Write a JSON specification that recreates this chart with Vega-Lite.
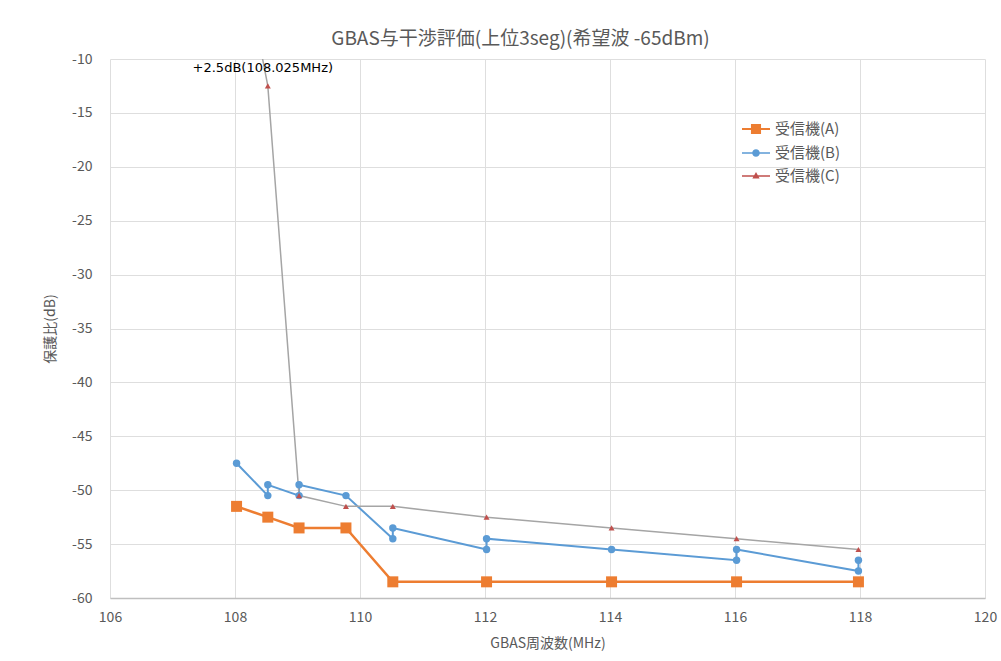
{
  "$schema": "https://vega.github.io/schema/vega-lite/v6.json",
  "autosize": {"type": "none"},
  "width": 875,
  "height": 539,
  "padding": {"left": 110, "top": 59, "right": 16, "bottom": 63},
  "background": "white",
  "title": {
    "text": "GBAS与干渉評価(上位3seg)(希望波 -65dBm)",
    "anchor": "middle",
    "dx": -27,
    "offset": 3,
    "fontSize": 19,
    "font": "Noto Sans CJK JP",
    "fontWeight": "normal",
    "color": "#595959"
  },
  "config": {
    "view": {"stroke": null},
    "font": "Noto Sans CJK JP",
    "axis": {
      "labelFont": "Noto Sans CJK JP",
      "labelFontSize": 14,
      "labelColor": "#595959",
      "labelExpr": "replace(datum.label, '−', '-')",
      "labelFlush": false,
      "titleFont": "Noto Sans CJK JP",
      "titleFontSize": 14,
      "titleFontWeight": "normal",
      "titleColor": "#595959",
      "gridColor": "#dedede",
      "gridWidth": 1,
      "ticks": false
    }
  },
  "datasets": {
    "rx": [
      {"series": "受信機(A)", "i": 1, "freq": 108.025, "value": -51.5},
      {"series": "受信機(A)", "i": 2, "freq": 108.525, "value": -52.5},
      {"series": "受信機(A)", "i": 3, "freq": 109.025, "value": -53.5},
      {"series": "受信機(A)", "i": 4, "freq": 109.775, "value": -53.5},
      {"series": "受信機(A)", "i": 5, "freq": 110.525, "value": -58.5},
      {"series": "受信機(A)", "i": 6, "freq": 112.025, "value": -58.5},
      {"series": "受信機(A)", "i": 7, "freq": 114.025, "value": -58.5},
      {"series": "受信機(A)", "i": 8, "freq": 116.025, "value": -58.5},
      {"series": "受信機(A)", "i": 9, "freq": 117.975, "value": -58.5},
      {"series": "受信機(B)", "i": 1, "freq": 108.025, "value": -47.5},
      {"series": "受信機(B)", "i": 2, "freq": 108.525, "value": -50.5},
      {"series": "受信機(B)", "i": 3, "freq": 108.525, "value": -49.5},
      {"series": "受信機(B)", "i": 4, "freq": 109.025, "value": -50.5},
      {"series": "受信機(B)", "i": 5, "freq": 109.025, "value": -49.5},
      {"series": "受信機(B)", "i": 6, "freq": 109.775, "value": -50.5},
      {"series": "受信機(B)", "i": 7, "freq": 110.525, "value": -54.5},
      {"series": "受信機(B)", "i": 8, "freq": 110.525, "value": -53.5},
      {"series": "受信機(B)", "i": 9, "freq": 112.025, "value": -55.5},
      {"series": "受信機(B)", "i": 10, "freq": 112.025, "value": -54.5},
      {"series": "受信機(B)", "i": 11, "freq": 114.025, "value": -55.5},
      {"series": "受信機(B)", "i": 12, "freq": 116.025, "value": -56.5},
      {"series": "受信機(B)", "i": 13, "freq": 116.025, "value": -55.5},
      {"series": "受信機(B)", "i": 14, "freq": 117.975, "value": -57.5},
      {"series": "受信機(B)", "i": 15, "freq": 117.975, "value": -56.5},
      {"series": "受信機(C)", "i": 1, "freq": 108.025, "value": 2.5},
      {"series": "受信機(C)", "i": 2, "freq": 108.525, "value": -12.5},
      {"series": "受信機(C)", "i": 3, "freq": 109.025, "value": -50.5},
      {"series": "受信機(C)", "i": 4, "freq": 109.775, "value": -51.5},
      {"series": "受信機(C)", "i": 5, "freq": 110.525, "value": -51.5},
      {"series": "受信機(C)", "i": 6, "freq": 112.025, "value": -52.5},
      {"series": "受信機(C)", "i": 7, "freq": 114.025, "value": -53.5},
      {"series": "受信機(C)", "i": 8, "freq": 116.025, "value": -54.5},
      {"series": "受信機(C)", "i": 9, "freq": 117.975, "value": -55.5}
    ],
    "note": [
      {"freq": 108.525, "value": -12.5, "label": "+2.5dB(108.025MHz)"}
    ]
  },
  "encoding": {
    "x": {
      "field": "freq", "type": "quantitative",
      "scale": {"domain": [106, 120], "nice": false, "zero": false},
      "axis": {
        "values": [106, 108, 110, 112, 114, 116, 118, 120],
        "title": "GBAS周波数(MHz)",
        "labelPadding": 12,
        "titlePadding": 12,
        "domainColor": "#bfbfbf",
        "domainWidth": 1.5
      }
    },
    "y": {
      "field": "value", "type": "quantitative",
      "scale": {"domain": [-60, -10], "nice": false, "zero": false},
      "axis": {
        "values": [-60, -55, -50, -45, -40, -35, -30, -25, -20, -15, -10],
        "title": "保護比(dB)",
        "domain": false,
        "labelPadding": 18,
        "titlePadding": 14
      }
    }
  },
  "resolve": {"scale": {"fill": "independent", "shape": "independent", "stroke": "independent"}},
  "layer": [
    {
      "data": {"name": "rx"},
      "mark": {"type": "line", "clip": true},
      "encoding": {
        "stroke": {
          "field": "series", "type": "nominal",
          "scale": {"range": ["#ED7D31", "#5B9BD5", "#A5A5A5"]},
          "legend": null
        },
        "strokeWidth": {
          "condition": [
            {"test": "datum.series === '受信機(A)'", "value": 2.5},
            {"test": "datum.series === '受信機(B)'", "value": 2}
          ],
          "value": 1.5
        },
        "order": {"field": "i", "type": "quantitative"}
      }
    },
    {
      "data": {"name": "rx"},
      "mark": {"type": "point", "filled": true, "opacity": 1, "clip": true},
      "encoding": {
        "fill": {
          "field": "series", "type": "nominal",
          "scale": {"range": ["#ED7D31", "#5B9BD5", "#C0504D"]},
          "legend": null
        },
        "shape": {
          "field": "series", "type": "nominal",
          "scale": {"range": ["square", "circle", "triangle-up"]},
          "legend": null
        },
        "size": {
          "condition": [
            {"test": "datum.series === '受信機(A)'", "value": 121},
            {"test": "datum.series === '受信機(B)'", "value": 55}
          ],
          "value": 36
        }
      }
    },
    {
      "data": {"name": "rx"},
      "transform": [{"filter": "false"}],
      "mark": {"type": "point", "filled": true, "opacity": 1},
      "encoding": {
        "fill": {
          "field": "series", "type": "nominal",
          "scale": {"domain": ["受信機(A)", "受信機(B)", "受信機(C)"], "range": ["#ED7D31", "#5B9BD5", "#C0504D"]},
          "legend": {
            "orient": "none",
            "legendX": 631,
            "legendY": 55,
            "title": null,
            "rowPadding": -2,
            "labelOffset": 4,
            "labelFont": "Noto Sans CJK JP",
            "labelFontSize": 15,
            "labelColor": "#595959",
            "symbolSize": 784
          }
        },
        "shape": {
          "field": "series", "type": "nominal",
          "scale": {
            "domain": ["受信機(A)", "受信機(B)", "受信機(C)"],
            "range": [
              "M-1,-0.07H1V0.07H-1ZM-0.36,-0.36H0.36V0.36H-0.36Z",
              "M-1,-0.06H1V0.06H-1ZM-0.27,0A0.27,0.27 0 1,1 0.27,0A0.27,0.27 0 1,1 -0.27,0Z",
              "M-1,-0.05H1V0.05H-1ZM0,-0.28L0.26,0.18H-0.26Z"
            ]
          },
          "legend": {
            "orient": "none",
            "legendX": 631,
            "legendY": 55,
            "title": null,
            "rowPadding": -2,
            "labelOffset": 4,
            "labelFont": "Noto Sans CJK JP",
            "labelFontSize": 15,
            "labelColor": "#595959",
            "symbolSize": 784
          }
        }
      }
    },
    {
      "data": {"name": "note"},
      "mark": {"type": "text", "font": "DejaVu Sans", "fontSize": 13, "color": "#000000", "dy": -18, "dx": -5, "align": "center", "baseline": "middle"},
      "encoding": {
        "text": {"field": "label", "type": "nominal"}
      }
    }
  ]
}
